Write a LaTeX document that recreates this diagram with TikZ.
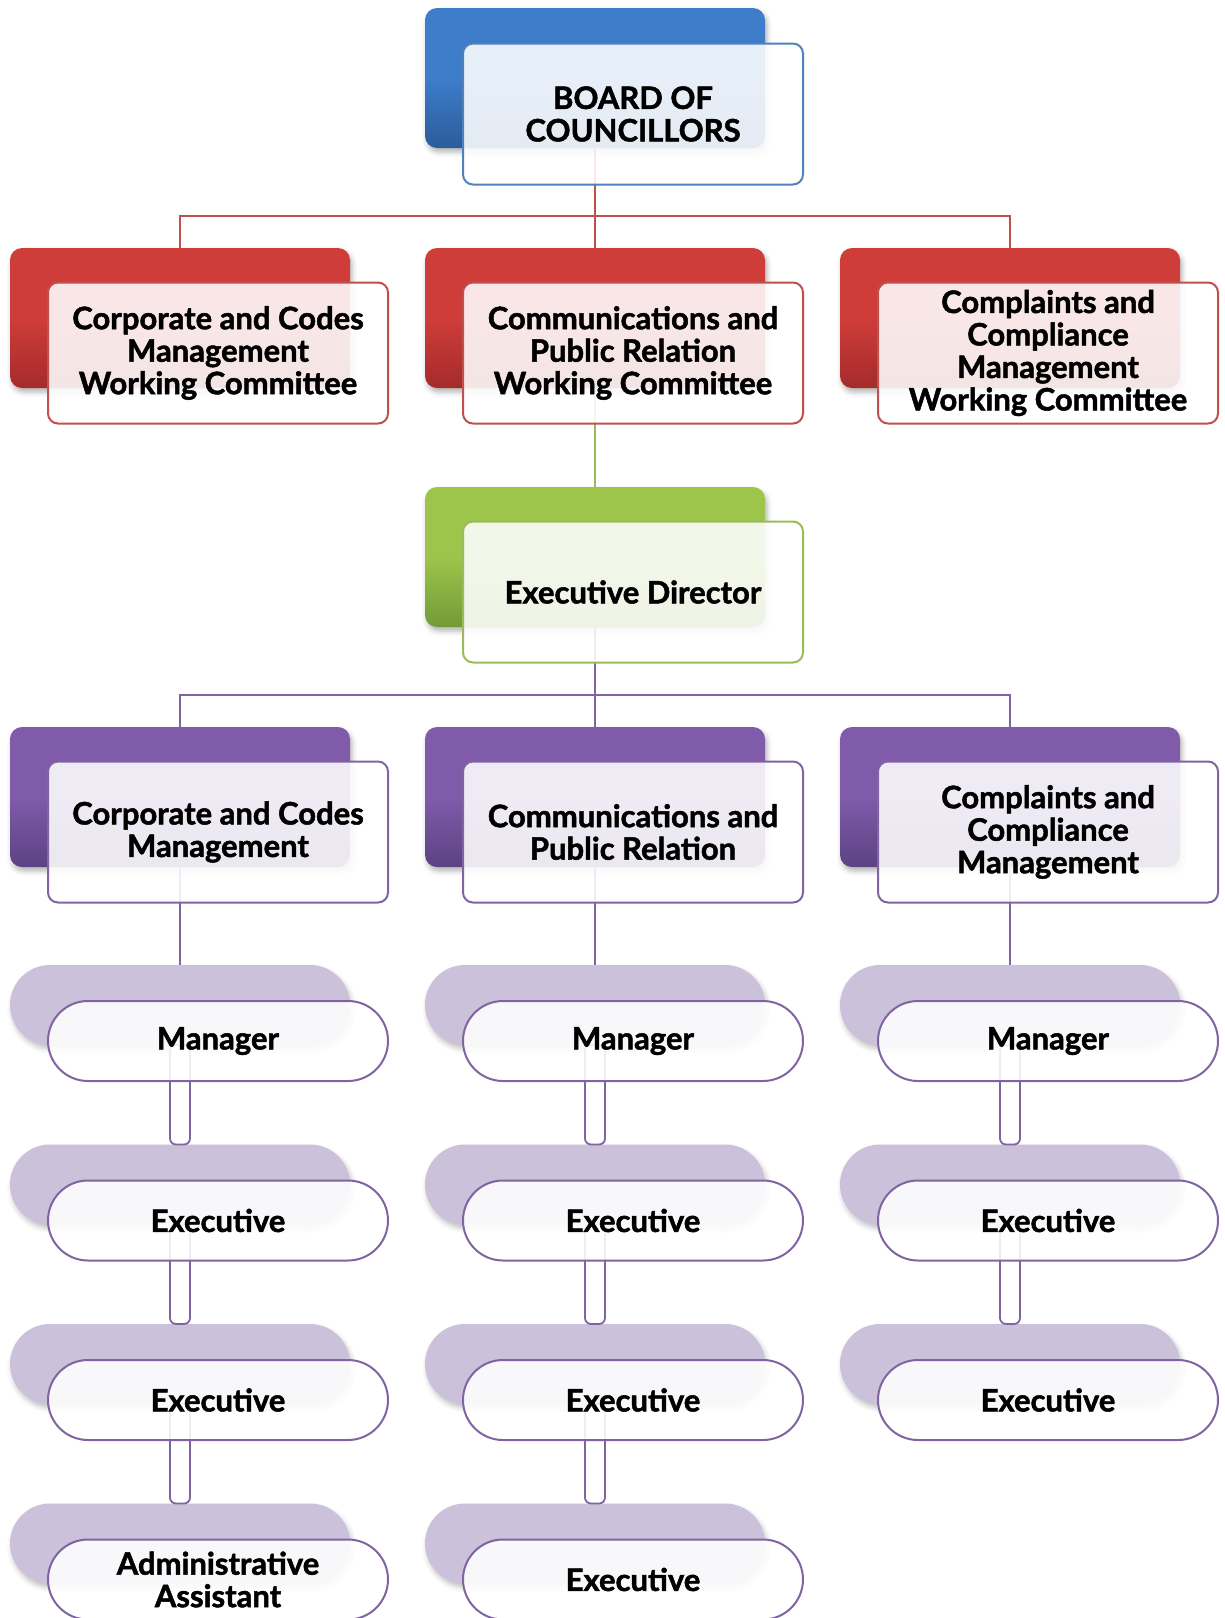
\documentclass[tikz,border=0pt]{standalone}
\usepackage{fontspec}
\setmainfont{Lato}[BoldFeatures={FakeBold=1.6}]
\usepackage{xcolor}
\usetikzlibrary{positioning,shadows.blur}
\definecolor{boardblue}{HTML}{3D7DCA}
\definecolor{boardbluedk}{HTML}{2B5C9A}
\definecolor{boardedge}{HTML}{4F81BD}
\definecolor{wcred}{HTML}{CF3D3A}
\definecolor{wcreddk}{HTML}{A42B2B}
\definecolor{wcedge}{HTML}{C0504D}
\definecolor{edgreen}{HTML}{9DC44B}
\definecolor{edgreendk}{HTML}{729B36}
\definecolor{ededge}{HTML}{9BBB59}
\definecolor{deptpurple}{HTML}{7F5BAA}
\definecolor{deptpurpledk}{HTML}{5C4283}
\definecolor{deptedge}{HTML}{8064A2}
\definecolor{staffback}{HTML}{CCC1DA}
\newcommand{\boxfont}{\fontsize{15.5}{16.25}\selectfont\bfseries}
\tikzset{
  backbox/.style={rounded corners=6pt, minimum width=170pt, minimum height=70pt,
                  inner sep=0pt, outer sep=0pt,
                  top color=#1, bottom color=#1dk, middle color=#1,
                  blur shadow={shadow xshift=1pt, shadow yshift=-2pt,
                               shadow blur radius=2.5pt, shadow opacity=30}},
  frontbox/.style={rounded corners=5pt, draw=#1, line width=1pt, fill=white,
                   fill opacity=0.88, text opacity=1, minimum width=170pt,
                   minimum height=70.5pt, inner sep=0pt, outer sep=0pt,
                   align=center, font=\boxfont},
  staffbk/.style={rounded corners=20pt, fill=staffback, minimum width=170pt,
                  minimum height=40pt, inner sep=0pt, outer sep=0pt,
                  blur shadow={shadow xshift=1pt, shadow yshift=-2pt,
                               shadow blur radius=2.5pt, shadow opacity=25}},
  stafffront/.style={rounded corners=20pt, draw=deptedge, line width=1pt,
                     fill=white, fill opacity=0.88, text opacity=1,
                     minimum width=170pt, minimum height=40pt, inner sep=0pt,
                     outer sep=0pt, align=center, font=\boxfont},
  link/.style={draw=#1, line width=1pt},
  pill/.style={draw=deptedge, fill=white, line width=0.9pt, rounded corners=3pt},
}

\begin{document}
\begin{tikzpicture}[x=0.5pt, y=-0.5pt]
\useasboundingbox (0,0) rectangle (1225,1618);

% ---------- back plates ----------
\node[backbox=boardblue]  at (595, 78) (board) {};
\node[backbox=wcred]      at (180,318) (wcA) {};
\node[backbox=wcred]      at (595,318) (wcB) {};
\node[backbox=wcred]      at (1010,318) (wcC) {};
\node[backbox=edgreen]    at (595,557) (ed) {};
\node[backbox=deptpurple] at (180,797) (dpA) {};
\node[backbox=deptpurple] at (595,797) (dpB) {};
\node[backbox=deptpurple] at (1010,797) (dpC) {};

\foreach \c/\cx/\n in {A/180/4, B/595/4, C/1010/3}
  \foreach \r in {1,...,\n}
    \node[staffbk] at (\cx, {1005+179.5*(\r-1)}) (s\c\r) {};

% ---------- connectors ----------
\coordinate (wcbus) at (595,216);
\draw[link=wcedge] (board.south) -- (wcbus);
\draw[link=wcedge] (wcA.north) |- (wcbus) -| (wcC.north);
\draw[link=wcedge] (wcbus) -- (wcB.north);
\draw[link=ededge] (wcB.south) -- (ed.north);

\coordinate (dpbus) at (595,695);
\draw[link=deptedge] (ed.south) -- (dpbus);
\draw[link=deptedge] (dpA.north) |- (dpbus) -| (dpC.north);
\draw[link=deptedge] (dpbus) -- (dpB.north);
\foreach \c in {A,B,C}
  \draw[link=deptedge] (dp\c.south) -- (s\c1.north);

\foreach \c/\n in {A/3, B/3, C/2}
  \foreach \r in {1,...,\n}{
    \pgfmathtruncatemacro{\nx}{\r+1}
    \draw[pill] ([xshift=-5pt]s\c\r.south) rectangle ([xshift=5pt]s\c\nx.north);
  }

% ---------- front plates ----------
\node[frontbox=boardedge] at (633,114) (boardF) {BOARD OF\\COUNCILLORS};
\node[frontbox=wcedge] at (218,353) (wcAF) {Corporate and Codes\\Management\\Working Committee};
\node[frontbox=wcedge] at (633,353) (wcBF) {Communications and\\Public Relation\\Working Committee};
\node[frontbox=wcedge] at (1048,353) (wcCF) {Complaints and\\Compliance\\Management\\Working Committee};
\node[frontbox=ededge] at (633,592) (edF) {Executive Director};
\node[frontbox=deptedge] at (218,832) (dpAF) {Corporate and Codes\\Management};
\node[frontbox=deptedge] at (633,832) (dpBF) {Communications and\\Public Relation};
\node[frontbox=deptedge] at (1048,832) (dpCF) {Complaints and\\Compliance\\Management};

% staff, one column at a time
\node[stafffront] at (218,1041)   (sA1F) {Manager};
\node[stafffront] at (218,1220.5) (sA2F) {Executive};
\node[stafffront] at (218,1400)   (sA3F) {Executive};
\node[stafffront] at (218,1579.5) (sA4F) {Administrative\\Assistant};

\node[stafffront] at (633,1041)   (sB1F) {Manager};
\node[stafffront] at (633,1220.5) (sB2F) {Executive};
\node[stafffront] at (633,1400)   (sB3F) {Executive};
\node[stafffront] at (633,1579.5) (sB4F) {Executive};

\node[stafffront] at (1048,1041)   (sC1F) {Manager};
\node[stafffront] at (1048,1220.5) (sC2F) {Executive};
\node[stafffront] at (1048,1400)   (sC3F) {Executive};
\end{tikzpicture}
\end{document}
